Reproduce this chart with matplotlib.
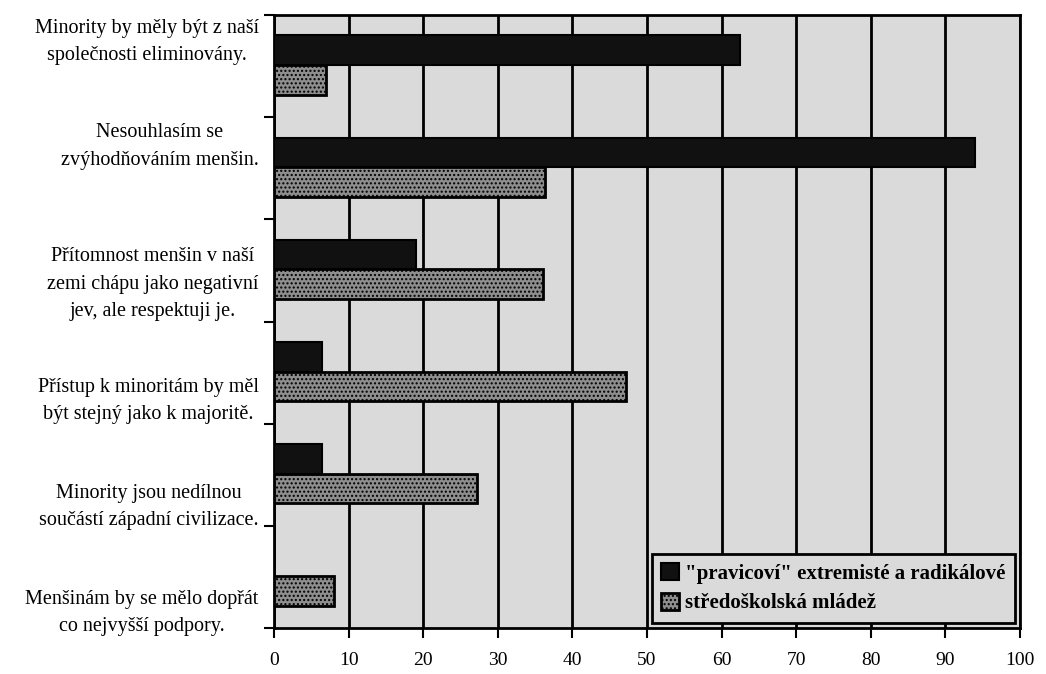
import numpy as np
import matplotlib
matplotlib.use('Agg')
import matplotlib.pyplot as plt

plt.rcParams['font.family'] = ['Liberation Serif', 'DejaVu Serif']

categories = [
    'Minority by měly být z naší\nspolečnosti eliminovány.',
    'Nesouhlasím se\nzvýhodňováním menšin.',
    'Přítomnost menšin v naší\nzemi chápu jako negativní\njev, ale respektuji je.',
    'Přístup k minoritám by měl\nbýt stejný jako k majoritě.',
    'Minority jsou nedílnou\nsoučástí západní civilizace.',
    'Menšinám by se mělo dopřát\nco nejvyšší podpory.',
]
extremiste = [62.5, 94, 19, 6.5, 6.5, 0]
mladez = [7, 36.3, 36, 47.2, 27.2, 8]
series_names = ['"pravicoví" extremisté a radikálové', 'středoškolská mládež']

# the labels in the scan sit a little off the category centres
label_shift = [-0.3, -0.28, 0.07, 0.21, 0.25, 0.29]

fig = plt.figure(figsize=(10.46, 6.74), dpi=100)
ax = fig.add_axes([274/1046, 1 - 628/674, (1020-274)/1046, (628-15)/674])
ax.set_facecolor('#dadada')

y = np.arange(len(categories))
h = 0.29
ax.barh(y - h/2 - 0.01, extremiste, height=h, color='#111111', edgecolor='black',
        linewidth=1.5, label=series_names[0], zorder=3)
ax.barh(y + h/2 - 0.01, mladez, height=h, color='#8e8e8e', edgecolor='black',
        linewidth=2, hatch='....', label=series_names[1], zorder=3)

ax.set_xlim(0, 100)
ax.set_ylim(len(categories) - 0.5, -0.5)
ax.set_xticks(np.arange(0, 101, 10))
ax.set_yticks(np.arange(-0.5, len(categories), 1))
ax.set_yticklabels([])
ax.set_yticks(y + np.array(label_shift), minor=True)
ax.set_yticklabels(categories, minor=True, multialignment='center', fontsize=14.5,
                   linespacing=1.6)
ax.tick_params(axis='y', which='minor', length=0, pad=11)
ax.tick_params(axis='y', which='major', length=7, width=1.5, direction='out')
ax.tick_params(axis='x', length=7, width=1.5, direction='out', labelsize=14, pad=10)
ax.grid(axis='x', color='black', linewidth=2, zorder=1)
for s in ['left', 'bottom', 'top', 'right']:
    ax.spines[s].set_linewidth(2)

leg = ax.legend(loc='lower right', frameon=True, fancybox=False, edgecolor='black',
                framealpha=1, facecolor='#dadada', handlelength=0.85, handleheight=0.85,
                handletextpad=0.3, borderaxespad=0.25, labelspacing=0.45, borderpad=0.45,
                prop={'family': ['Liberation Serif'], 'weight': 'bold', 'size': 15})
leg.get_frame().set_linewidth(2)
leg.set_zorder(5)

plt.savefig('out.png', dpi=100)
